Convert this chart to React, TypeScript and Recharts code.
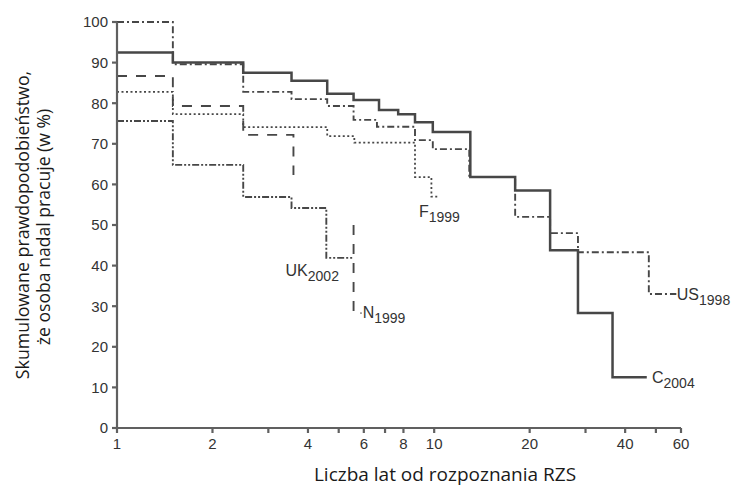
import React from 'react';
import { LineChart, Line, XAxis, YAxis, ReferenceDot } from 'recharts';

// Kaplan–Meier step curves: times where each step starts, values of each step, and the end time
const cTimes = [1, 1.5, 2.5, 3.55, 4.6, 5.57, 6.7, 7.7, 8.7, 9.9, 13, 18, 23.2, 28.4, 36.5];
const cValues = [92.5, 90, 87.5, 85.5, 82.3, 80.8, 78.3, 77.3, 75.3, 72.9, 61.8, 58.5, 43.8, 28.3, 12.5];
const cEnd = 46.8;

const usTimes = [1, 1.5, 2.5, 3.55, 4.6, 5.57, 6.6, 8.7, 9.9, 12.9, 18, 23.2, 28.4, 47.5];
const usValues = [100, 89.6, 82.8, 81, 79.3, 75.9, 74.2, 70.9, 68.7, 61.8, 52, 48, 43.3, 33];
const usEnd = 58;

const fTimes = [1, 1.5, 2.5, 4.6, 5.6, 8.7, 9.8];
const fValues = [82.8, 77.3, 74.1, 71.9, 70.3, 61.8, 57];
const fEnd = 10.4;

const nTimesA = [1, 1.5, 2.5, 3.6];
const nValuesA = [86.7, 79.3, 72.2, 62.3];
const nEndA = 3.6;
const nTimesB = [5.57, 5.57];
const nValuesB = [50, 28.3];
const nEndB = 5.9;

const ukTimes = [1, 1.5, 2.5, 3.55, 4.57];
const ukValues = [75.6, 64.8, 56.9, 54.2, 41.9];
const ukEnd = 5.57;

const xTicks = [1, 2, 3, 4, 5, 6, 7, 8, 9, 10, 20, 30, 40, 50, 60];
const xTickLabels = [1, 2, 4, 6, 8, 10, 20, 40, 60];
const yTicks = [0, 10, 20, 30, 40, 50, 60, 70, 80, 90, 100];

// series labels: [main, subscript, x, y]
const seriesLabels: [string, string, number, number][] = [
  ['C', '2004', 48.6, 12.5],
  ['US', '1998', 58.2, 33],
  ['F', '1999', 8.95, 53.5],
  ['UK', '2002', 3.4, 38.9],
  ['N', '1999', 5.95, 28.5],
];

function steps(times: number[], values: number[], end: number) {
  const pts: { x: number; y: number }[] = [];
  for (let i = 0; i < times.length; i++) {
    const next = i + 1 < times.length ? times[i + 1] : end;
    pts.push({ x: times[i], y: values[i] });
    pts.push({ x: next, y: values[i] });
  }
  return pts;
}

const cData = steps(cTimes, cValues, cEnd);
const usData = steps(usTimes, usValues, usEnd);
const fData = steps(fTimes, fValues, fEnd);
const nDataA = steps(nTimesA, nValuesA, nEndA);
const nDataB = steps(nTimesB, nValuesB, nEndB);
const ukData = steps(ukTimes, ukValues, ukEnd);

const tickFont = 'Liberation Sans, Arial, sans-serif';
const tickColor = '#333';
const axisColor = '#606060';
const titleFont = 'Open Sans, sans-serif';

const XTick = (props: any) => {
  const { x, y, payload } = props;
  if (!xTickLabels.includes(payload.value)) return null;
  return (
    <text x={x} y={y} dy={14} textAnchor="middle" fontFamily={tickFont} fontSize={15} fill={tickColor}>
      {payload.value}
    </text>
  );
};

const YTitle = (props: any) => {
  const vb = props.viewBox || { x: 0, y: 22, width: 117, height: 406 };
  const cy = vb.y + vb.height / 2;
  const x1 = 29;
  const x2 = 50;
  return (
    <g>
      <text x={x1} y={cy} transform={`rotate(-90 ${x1} ${cy})`} textAnchor="middle" fontFamily={titleFont} fontSize={17.8} fill="#1a1a1a">
        Skumulowane prawdopodobieństwo,
      </text>
      <text x={x2} y={cy + 2} transform={`rotate(-90 ${x2} ${cy + 2})`} textAnchor="middle" fontFamily={titleFont} fontSize={17.6} fill="#1a1a1a">
        że osoba nadal pracuje (w %)
      </text>
    </g>
  );
};

const XTitle = () => (
  <text x={445} y={481} textAnchor="middle" fontFamily={titleFont} fontSize={19} fill="#1a1a1a">
    Liczba lat od rozpoznania RZS
  </text>
);

const makeSeriesLabel = (main: string, sub: string) => (props: any) => {
  const vb = props.viewBox || {};
  const x = vb.x ?? vb.cx ?? 0;
  const y = vb.y ?? vb.cy ?? 0;
  return (
    <text x={x} y={y + 6} fontFamily={tickFont} fontSize={16} fill="#333">
      <tspan>{main}</tspan>
      <tspan fontSize={14} dy={5}>{sub}</tspan>
    </text>
  );
};

const lineColor = '#474747';

export default function App() {
  return (
    <div style={{ position: 'absolute', left: 0, top: 0, width: 733, height: 488, background: '#fff' }}>
      <LineChart width={733} height={488} margin={{ top: 22, right: 52, bottom: 0, left: 0 }}>
        <XAxis
          dataKey="x"
          type="number"
          scale="log"
          domain={[1, 60]}
          ticks={xTicks}
          allowDataOverflow
          height={60}
          tickSize={5}
          tickMargin={2}
          tick={<XTick />}
          stroke={axisColor}
          strokeWidth={2.2}
          label={{ content: <XTitle /> } as any}
        />
        <YAxis
          type="number"
          domain={[0, 100]}
          ticks={yTicks}
          width={117}
          tickSize={5}
          tickMargin={4}
          stroke={axisColor}
          strokeWidth={2.2}
          tick={{ fontFamily: tickFont, fontSize: 15, fill: tickColor }}
          label={{ content: <YTitle /> } as any}
        />
        <Line data={usData} dataKey="y" type="linear" stroke={lineColor} strokeWidth={1.9} strokeDasharray="7 3 2 3" dot={false} activeDot={false} isAnimationActive={false} />
        <Line data={fData} dataKey="y" type="linear" stroke={lineColor} strokeWidth={1.8} strokeDasharray="2 2.5" dot={false} activeDot={false} isAnimationActive={false} />
        <Line data={nDataA} dataKey="y" type="linear" stroke={lineColor} strokeWidth={1.9} strokeDasharray="10 9" dot={false} activeDot={false} isAnimationActive={false} />
        <Line data={nDataB} dataKey="y" type="linear" stroke={lineColor} strokeWidth={1.9} strokeDasharray="10 9" dot={false} activeDot={false} isAnimationActive={false} />
        <Line data={ukData} dataKey="y" type="linear" stroke={lineColor} strokeWidth={1.9} strokeDasharray="7 2 2 2 2 2" dot={false} activeDot={false} isAnimationActive={false} />
        <Line data={cData} dataKey="y" type="linear" stroke={lineColor} strokeWidth={2.5} dot={false} activeDot={false} isAnimationActive={false} />
        {seriesLabels.map(([main, sub, x, y]) => (
          <ReferenceDot
            key={main + sub}
            x={x}
            y={y}
            r={0}
            fill="none"
            stroke="none"
            ifOverflow="visible"
            label={{ content: makeSeriesLabel(main, sub) } as any}
          />
        ))}
      </LineChart>
    </div>
  );
}
